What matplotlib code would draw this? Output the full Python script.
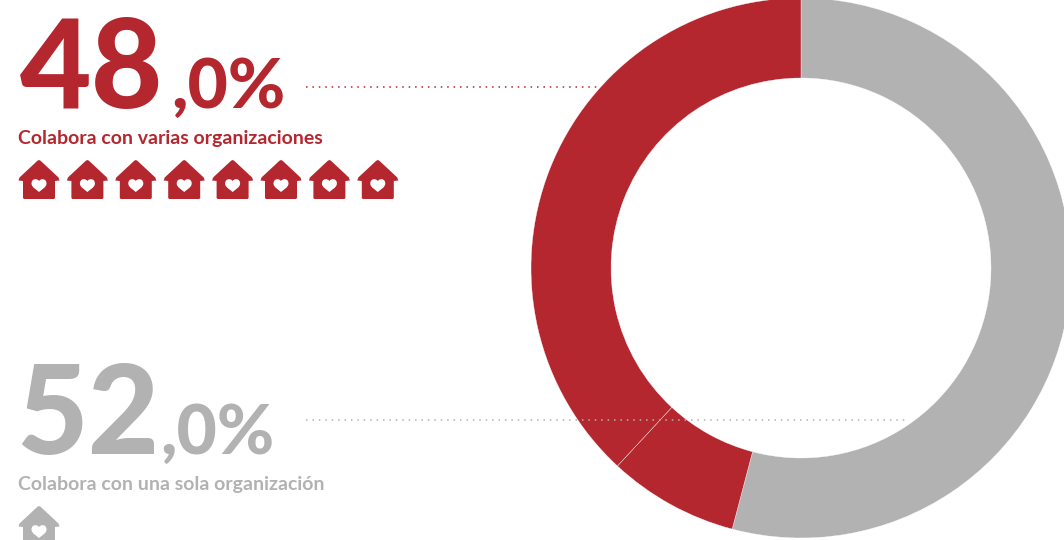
import matplotlib
matplotlib.use('Agg')
import matplotlib.pyplot as plt
from matplotlib.path import Path
from matplotlib.patches import PathPatch
from matplotlib.transforms import Affine2D

# donut, clockwise from 12 o'clock
slices = [54.1, 7.8, 38.1]
slice_colors = ['#B2B2B2', '#B5272F', '#B5272F']

big_numbers = ['48', '52']
small_numbers = [',0%', ',0%']
labels = ['Colabora con varias organizaciones', 'Colabora con una sola organización']
icon_counts = [8, 1]

RED = '#B5272F'
GRAY = '#B2B2B2'
W, H = 1064, 540

plt.rcParams['font.family'] = ['Lato', 'DejaVu Sans']

# house icon, apex at 0,0 and y going down, heart is wound the other way so it's a hole
M, L, C, Z = Path.MOVETO, Path.LINETO, Path.CURVE4, Path.CLOSEPOLY
house_verts = [(-1.5, 0.7), (0, 0), (1.5, 0.7), (19.5, 17.5), (20.5, 20.5), (16, 21), (16, 38), (15, 39), (-15, 39),
               (-16, 38), (-16, 21), (-20.5, 20.5), (-19.5, 17.5), (-1.5, 0.7),
               (0, 21), (-2, 18), (-7.5, 18.5), (-7.5, 23.5), (-7.5, 27.5), (-2, 30), (0, 32),
               (2, 30), (7.5, 27.5), (7.5, 23.5), (7.5, 18.5), (2, 18), (0, 21), (0, 21)]
house_codes = [M, L, L, L, L, L, L, L, L, L, L, L, L, Z] + [M] + [C] * 12 + [Z]
house = Path(house_verts, house_codes)


def draw_block(ax, big, small, label, n_icons, color, x_big, y_base, x_small, y_label, y_icon):
    ax.text(x_big, H - y_base, big, color=color, fontsize=89, fontweight='black', fontstyle='normal', va='baseline')
    ax.text(x_small, H - y_base, small, color=color, fontsize=50, fontweight='black', fontstyle='normal', va='baseline')
    ax.text(18, H - y_label, label, color=color, fontsize=14, fontweight='bold', va='baseline')
    for i in range(n_icons):
        tr = Affine2D().scale(1, -1).translate(39 + i * 48.4, H - y_icon)
        ax.add_patch(PathPatch(house, transform=tr + ax.transData, facecolor=color, edgecolor='none'))


fig = plt.figure(figsize=(W / 100, H / 100), dpi=100)
ax = fig.add_axes([0, 0, 1, 1])

ax.pie(slices, colors=slice_colors, startangle=90, counterclock=False, center=(801, H - 268),
       radius=270, wedgeprops=dict(width=80, edgecolor='white', linewidth=0.25), frame=True)
ax.set_xlim(0, W)
ax.set_ylim(0, H)
ax.set_aspect('equal')
ax.axis('off')

# dotted leader lines
ax.plot([306, 600], [H - 87, H - 87], color=RED, lw=1.1, linestyle=(0, (1, 3.2)))
ax.plot([306, 905], [H - 420, H - 420], color=GRAY, lw=1.1, linestyle=(0, (1, 3.2)))

draw_block(ax, big_numbers[0], small_numbers[0], labels[0], icon_counts[0], RED, 20, 108, 171, 144, 160)
draw_block(ax, big_numbers[1], small_numbers[1], labels[1], icon_counts[1], GRAY, 16, 454, 160, 490, 506)

fig.savefig('out.png', dpi=100)
